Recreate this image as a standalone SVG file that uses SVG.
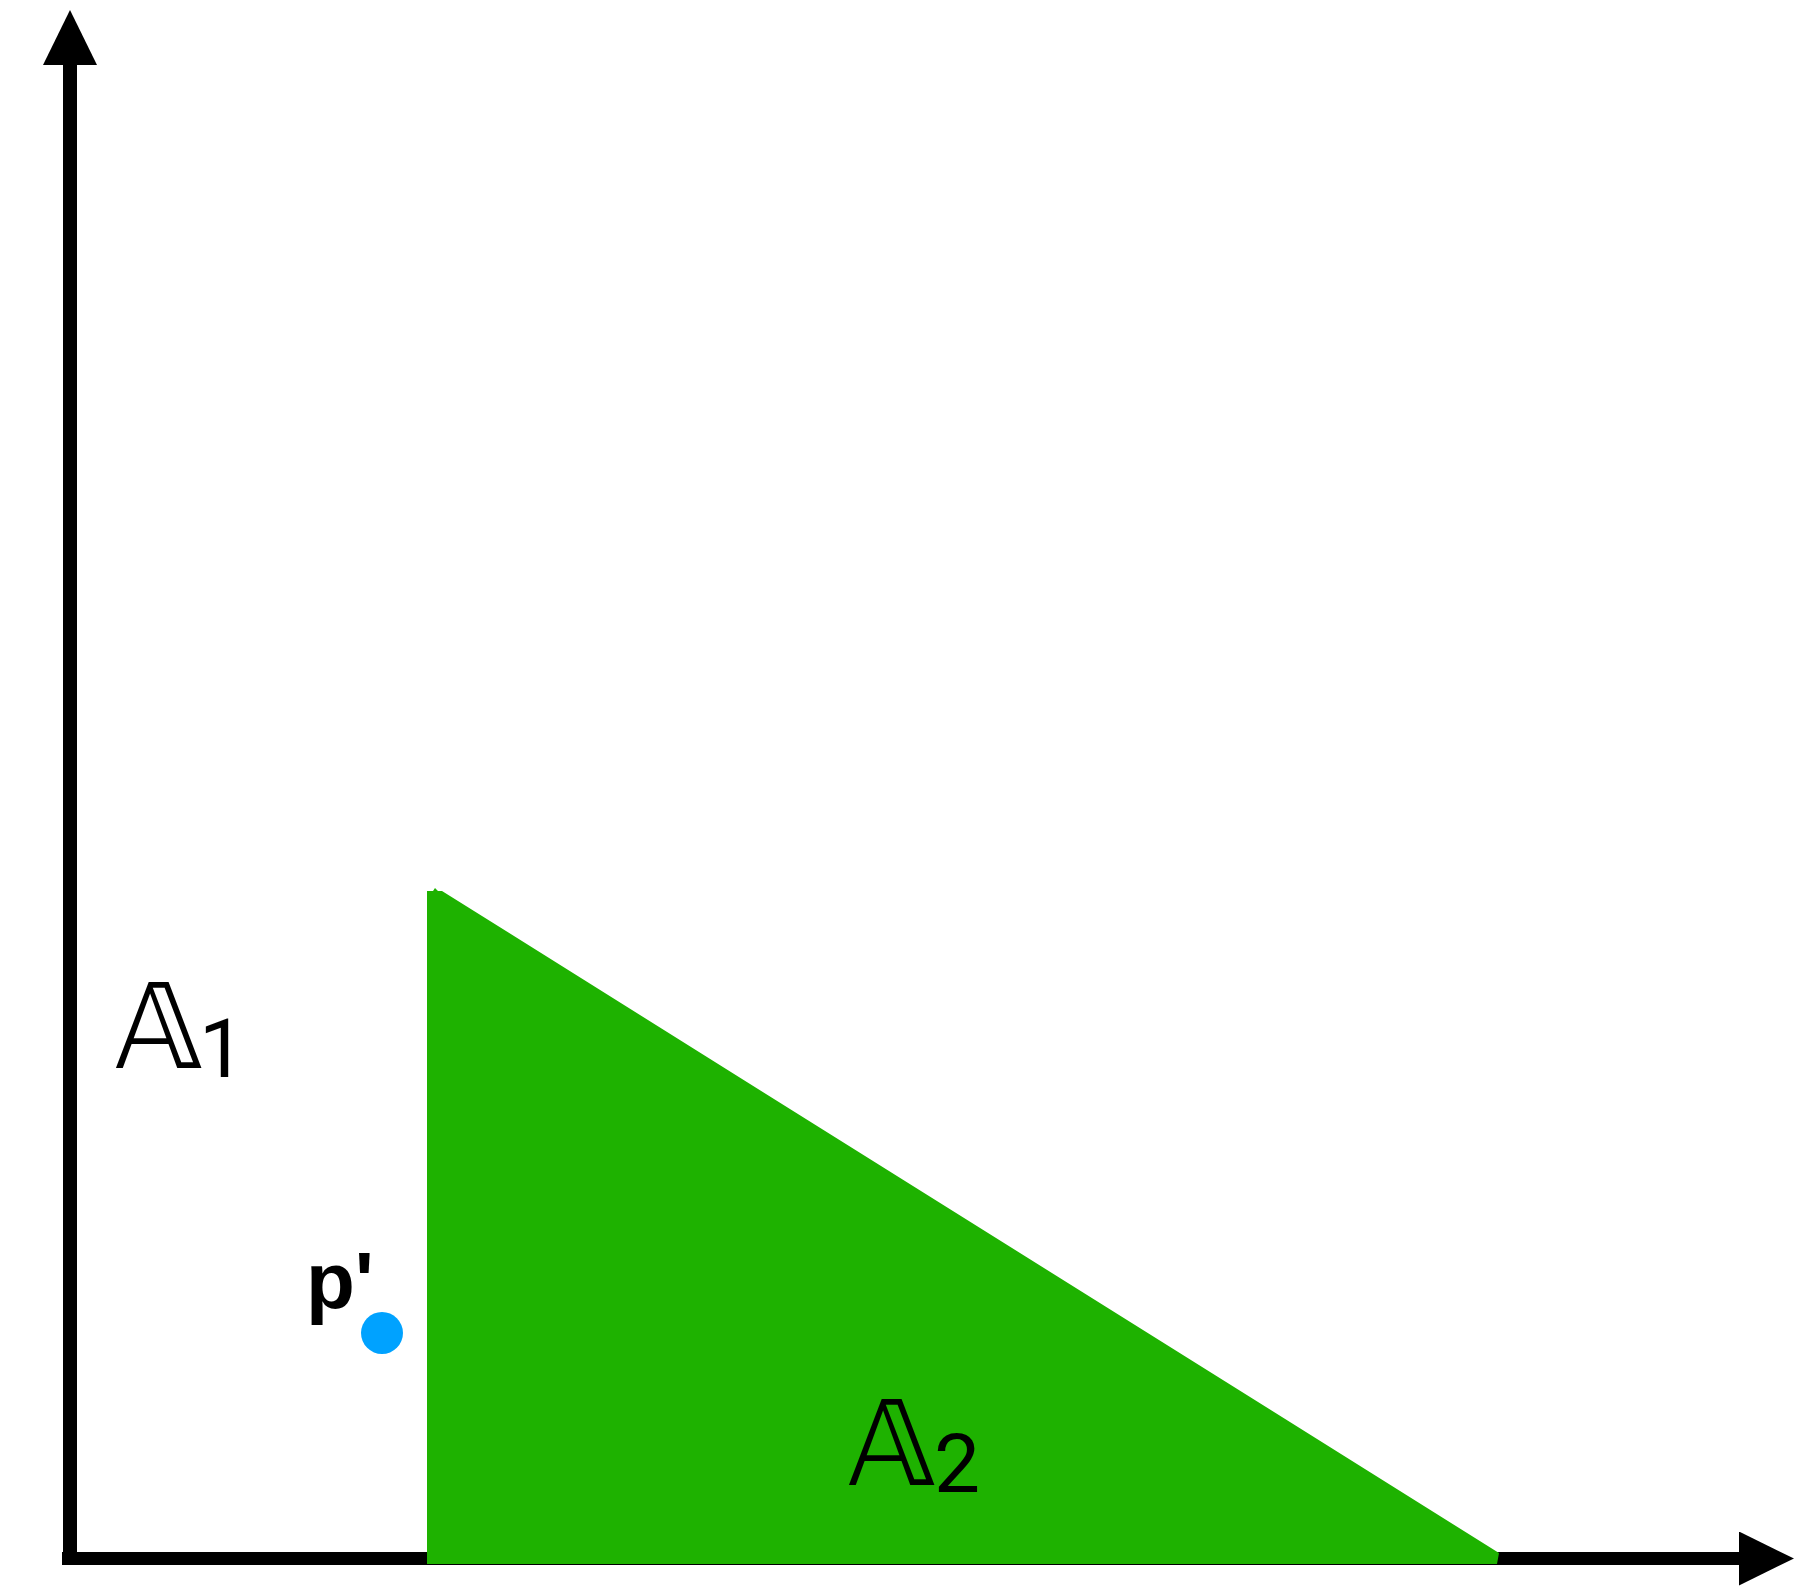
<svg xmlns="http://www.w3.org/2000/svg" width="1814" height="1586" viewBox="0 0 1814 1586">
<style>
.axis{stroke:#000;fill:none}
.lbl{font-family:"DejaVu Sans","Liberation Sans",sans-serif;fill:#000;font-size:118px}
.sub{font-family:Roboto,"Liberation Sans",Arial,sans-serif;font-size:82px}
.pt{font-family:"Liberation Sans",Arial,sans-serif;fill:#000}
</style>
<defs>
<marker id="head" markerUnits="userSpaceOnUse" markerWidth="56" markerHeight="54" refX="0" refY="27" orient="auto" viewBox="0 0 56 54">
<path d="M0,0 L55,27 L0,54 z" fill="#000"/>
</marker>
</defs>
<rect width="1814" height="1586" fill="#fff"/>
<g id="connectors">
<line class="axis" x1="70" y1="1565" x2="70" y2="65" stroke-width="14" marker-end="url(#head)"/>
<line class="axis" x1="62" y1="1558.5" x2="1739" y2="1558.5" stroke-width="13" marker-end="url(#head)"/>
</g>
<g id="region-A2">
<polygon points="427,891 433,891 435,888 438,891 442,891 1499,1553 1497,1564 427,1564" fill="#1eb200"/>
<text class="lbl" x="848" y="1485">𝔸<tspan class="sub" x="934" y="1492">2</tspan></text>
</g>
<g id="region-A1">
<text class="lbl" x="115" y="1068">𝔸<tspan class="sub" x="199" y="1077">1</tspan></text>
</g>
<g id="point-p">
<circle cx="382" cy="1333" r="21" fill="#00a2ff"/>
<text class="pt" x="306" y="1308" font-size="80" font-weight="bold">p'</text>
</g>
</svg>
